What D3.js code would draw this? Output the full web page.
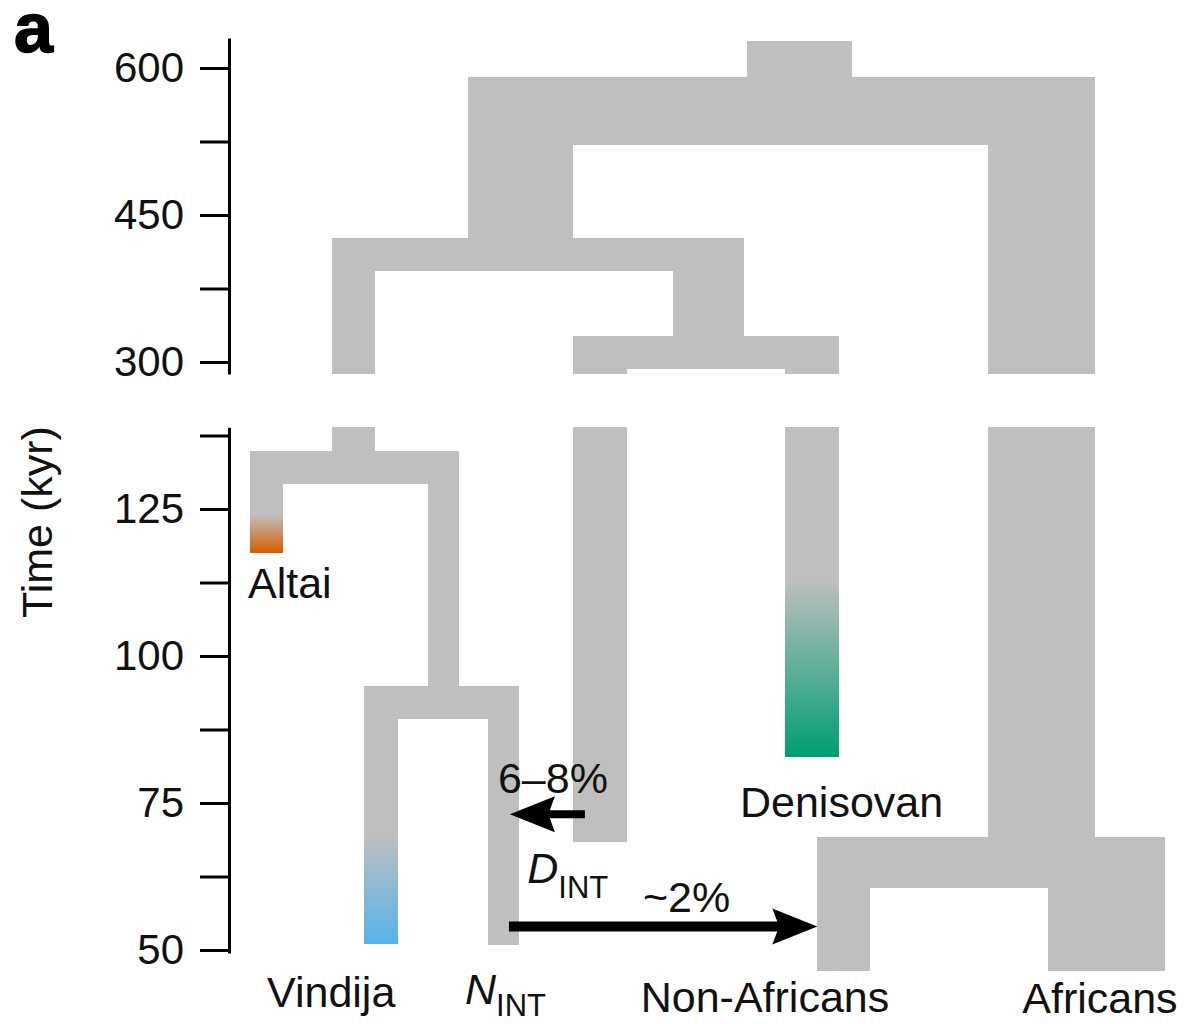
<!DOCTYPE html>
<html>
<head>
<meta charset="utf-8">
<script src="https://cdn.jsdelivr.net/npm/d3@7"></script>
<style>
  html, body { margin: 0; padding: 0; background: #fff; }
  svg { display: block; font-family: "Liberation Sans", Arial, Helvetica, sans-serif; }
</style>
</head>
<body>
<svg id="chart" width="1184" height="1024"></svg>
<script>
// Demographic model: lineage blocks (x extent in lane units, times in kyr)
const lineageNames = ["root", "ancestral", "africanStem", "archaicStem", "archaicBar",
  "neanderthalStem", "denNiStem", "denNiBar", "dIntStem", "denisovanStem",
  "neanderthalBar", "altai", "niStem", "niBar", "vindija", "nInt",
  "modernBar", "nonAfricans", "africans"];
const laneLeft  = [54.3, 23.8, 80.7, 23.8, 9.0, 9.0, 46.2, 35.3, 35.3, 58.5, 0.0, 0.0, 19.45, 12.45, 12.45, 26.0, 62.0, 62.0, 87.2];
const laneRight = [65.8, 92.35, 92.35, 35.3, 54.0, 13.65, 54.0, 64.4, 41.2, 64.4, 22.85, 3.6, 22.85, 29.4, 16.15, 29.4, 100.0, 67.8, 100.0];
const timeStart = [627.6, 590.8, 590.8, 590.8, 426.5, 426.5, 426.5, 326.5, 326.5, 326.5, 134.8, 134.8, 134.8, 94.9, 94.9, 94.9, 69.2, 69.2, 69.2];
const timeEnd   = [590.0, 521.4, 60.6, 426.0, 392.9, 129.3, 326.0, 292.9, 68.4, 82.9, 129.3, 117.6, 94.5, 89.3, 51.0, 50.85, 60.6, 46.4, 46.4];

// Sampled lineages: time where the sample colour begins to show
const sampleNames = ["altai", "vindija", "denisovanStem"];
const sampleFadeFrom = [124.0, 69.6, 113.0];
const sampleColors = ["#d55e00", "#56b4e9", "#009e73"];

// Time axis ticks (two segments with a break)
const upperTicks = [300, 375, 450, 525, 600];
const upperTickLabels = ["300", "", "450", "", "600"];
const lowerTicks = [50, 62.5, 75, 87.5, 100, 112.5, 125, 137.5];
const lowerTickLabels = ["50", "", "75", "", "100", "", "125", ""];

// Gene-flow events: from lane, to lane, time (kyr)
const flowLabels = ["6\u20138%", "~2%"];
const flowFrom = [36.6, 28.3];
const flowTo = [28.4, 62.0];
const flowTime = [73.1, 54.0];
const flowWidth = [8, 10];

const svg = d3.select("#chart");
const grey = "#bfbfbf";

const x = d3.scaleLinear().domain([0, 100]).range([250, 1165]);
const yUpper = d3.scaleLinear().domain([300, 600]).range([362, 68]);
const yLower = d3.scaleLinear().domain([50, 125]).range([950, 509]);

const panels = [
  { y: yUpper, min: 287.8, max: 640, axisMin: 287.8, axisMax: 630.6, ticks: upperTicks, labels: upperTickLabels },
  { y: yLower, min: 40, max: 138.9, axisMin: 49.5, axisMax: 138.9, ticks: lowerTicks, labels: lowerTickLabels }
];

// gradients for sampled lineages
const defs = svg.append("defs");
sampleNames.forEach((name, i) => {
  const j = lineageNames.indexOf(name);
  const g = defs.append("linearGradient")
    .attr("id", "grad-" + name)
    .attr("gradientUnits", "userSpaceOnUse")
    .attr("x1", 0).attr("x2", 0)
    .attr("y1", yLower(sampleFadeFrom[i]))
    .attr("y2", yLower(timeEnd[j]));
  g.append("stop").attr("offset", 0).attr("stop-color", grey);
  g.append("stop").attr("offset", 1).attr("stop-color", sampleColors[i]);
});

const blocks = lineageNames.map((name, i) => ({
  name, x0: laneLeft[i], x1: laneRight[i], t0: timeStart[i], t1: timeEnd[i],
  fill: sampleNames.includes(name) ? "url(#grad-" + name + ")" : grey
}));

panels.forEach(p => {
  const visible = blocks
    .map(b => ({ ...b, top: Math.min(b.t0, p.max), bot: Math.max(b.t1, p.min) }))
    .filter(b => b.top > b.bot);
  svg.append("g").selectAll("rect")
    .data(visible)
    .join("rect")
    .attr("x", d => x(d.x0))
    .attr("width", d => x(d.x1) - x(d.x0))
    .attr("y", d => p.y(d.top))
    .attr("height", d => p.y(d.bot) - p.y(d.top))
    .attr("fill", d => d.fill)
    .attr("shape-rendering", "crispEdges");

  // axis segment
  const ax = p.y.copy().domain([p.axisMin, p.axisMax]).range([p.y(p.axisMin), p.y(p.axisMax)]);
  const g = svg.append("g")
    .attr("transform", "translate(229,0)")
    .call(d3.axisLeft(ax)
      .tickValues(p.ticks)
      .tickFormat((d, i) => p.labels[i])
      .tickSize(29)
      .tickSizeOuter(0)
      .tickPadding(16));
  g.select(".domain").attr("stroke", "#000").attr("stroke-width", 3);
  g.selectAll(".tick line").attr("stroke", "#000").attr("stroke-width", 3);
  g.selectAll(".tick text")
    .attr("fill", "#111")
    .attr("font-size", 42)
    .attr("font-family", "'Liberation Sans', Arial, sans-serif");
});

// gene-flow arrows
const arrows = svg.append("g");
flowTime.forEach((t, i) => {
  const yy = yLower(t);
  const xs = x(flowFrom[i]), xe = x(flowTo[i]);
  const dir = Math.sign(xe - xs);
  const headLen = 45, headHalf = 18, notch = 5;
  const hw = flowWidth[i] / 2;
  const base = xe - dir * headLen;
  const path = d3.path();
  path.moveTo(xs, yy - hw);
  path.lineTo(base + dir * notch, yy - hw);
  path.lineTo(base, yy - headHalf);
  path.lineTo(xe, yy);
  path.lineTo(base, yy + headHalf);
  path.lineTo(base + dir * notch, yy + hw);
  path.lineTo(xs, yy + hw);
  path.closePath();
  arrows.append("path").attr("d", path.toString()).attr("fill", "#000");
});

// text labels
const text = svg.append("g").attr("fill", "#111").attr("font-size", 43);
const lab = (str, ux, t, anchor) =>
  text.append("text").attr("x", x(ux)).attr("y", yLower(t)).attr("text-anchor", anchor || "start").text(str);

lab("Altai", -0.22, 109.9);
lab("Vindija", 1.86, 40.3);
lab("Denisovan", 53.55, 72.6);
lab("Non-Africans", 42.7, 39.5);
lab("Africans", 84.4, 39.3);
lab(flowLabels[0], 27.1, 76.7);
lab(flowLabels[1], 42.95, 56.5);

// subscripted lineage names
const sub = (main, subTxt, ux, t, drop) => {
  const tx = text.append("text").attr("x", x(ux)).attr("y", yLower(t));
  tx.append("tspan").attr("font-style", "italic").text(main);
  tx.append("tspan").attr("font-size", 31).attr("dy", drop).text(subTxt);
};
sub("D", "INT", 30.3, 61.4, 15);
sub("N", "INT", 23.5, 40.8, 12);

// axis title
svg.append("text")
  .attr("transform", "translate(52,522) rotate(-90)")
  .attr("text-anchor", "middle")
  .attr("font-size", 43)
  .attr("fill", "#111")
  .text("Time (kyr)");

// panel letter
svg.append("text")
  .attr("x", 14).attr("y", 52)
  .attr("font-size", 70)
  .attr("font-weight", "bold")
  .attr("stroke", "#000")
  .attr("stroke-width", 1.5)
  .attr("fill", "#000")
  .text("a");
</script>
</body>
</html>
